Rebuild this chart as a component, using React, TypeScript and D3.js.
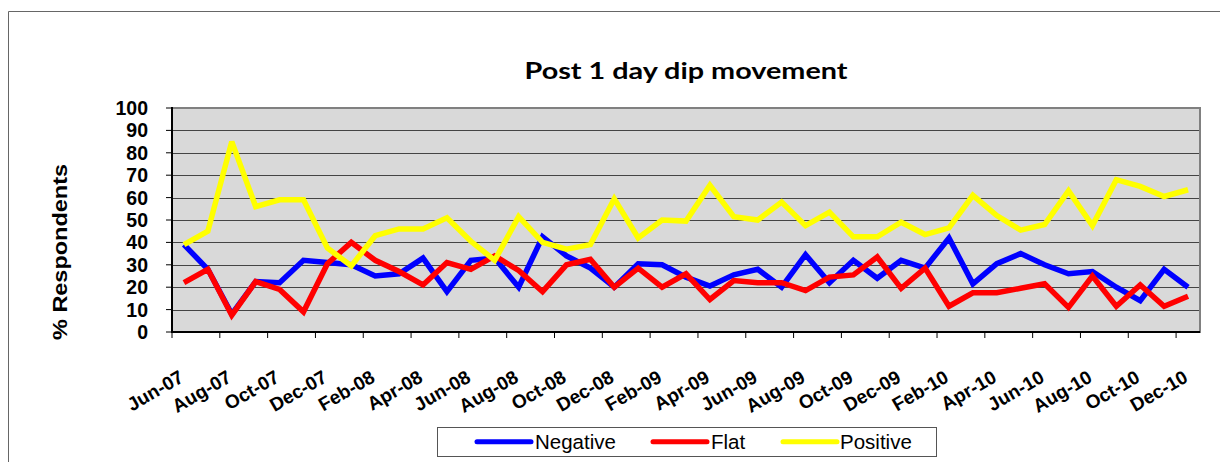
import React from "react";
import * as d3 from "d3";

const months = [
  "Jun-07","Jul-07","Aug-07","Sep-07","Oct-07","Nov-07","Dec-07",
  "Jan-08","Feb-08","Mar-08","Apr-08","May-08","Jun-08","Jul-08","Aug-08","Sep-08","Oct-08","Nov-08","Dec-08",
  "Jan-09","Feb-09","Mar-09","Apr-09","May-09","Jun-09","Jul-09","Aug-09","Sep-09","Oct-09","Nov-09","Dec-09",
  "Jan-10","Feb-10","Mar-10","Apr-10","May-10","Jun-10","Jul-10","Aug-10","Sep-10","Oct-10","Nov-10","Dec-10",
];

const negative = [39, 28, 8, 22.5, 22, 32, 31, 30, 25, 26, 33, 18, 32, 33, 20, 42.5, 34, 28.5, 20, 30.5, 30, 24.5, 20.5, 25.5, 28, 20, 34.5, 22, 32, 24, 32, 28.5, 42, 21.5, 30.5, 35, 30, 26, 27, 20, 14, 28, 20];
const flat = [22, 28, 7.5, 22.5, 19, 9, 30.5, 40, 32, 27, 21, 31, 28, 34, 27.5, 18, 30, 32.5, 20, 28.5, 20, 26, 14.5, 23, 22, 22, 18.5, 24.5, 25.5, 33.5, 19.5, 28.5, 11.5, 17.5, 17.5, 19.5, 21.5, 11, 25, 11.5, 21, 11.5, 16];
const positive = [39, 45, 85, 56, 59, 59, 37.5, 29.5, 43, 46, 46, 51, 40.5, 32, 51.5, 40, 37, 39, 59.5, 42, 50, 49.5, 65.5, 51.5, 50, 58, 47.5, 53.5, 42.5, 42.5, 49, 43.5, 46.5, 61, 52, 45.5, 48, 63, 47.5, 68, 65, 60.5, 63.5];

const yTicks = [0, 10, 20, 30, 40, 50, 60, 70, 80, 90, 100];
const seriesNames = ["Negative", "Flat", "Positive"];
const seriesColors = ["#0000ff", "#ff0000", "#ffff00"];
const seriesData = [negative, flat, positive];

const W = 1220;
const H = 462;
const L = 172, R = 1200, T = 108, B = 332;

export default function App() {
  const x = d3.scaleBand<number>().domain(d3.range(months.length)).range([L, R]).paddingInner(0).paddingOuter(0);
  const y = d3.scaleLinear().domain([0, 100]).range([B, T]);
  const cx = (i: number) => (x(i) as number) + x.bandwidth() / 2;
  const line = d3.line<number>().x((_, i) => cx(i)).y((v) => y(v));
  const tickIdx = d3.range(0, months.length, 2);

  const legendItems = [
    { lx: 477, tx: 535 },
    { lx: 653, tx: 711 },
    { lx: 783, tx: 840 },
  ];

  return (
    <div style={{ position: "absolute", left: 0, top: 0 }}>
      <svg width={W} height={H} style={{ display: "block", fontFamily: "'Liberation Sans', Arial, sans-serif" }}>
        <rect x={0} y={0} width={W} height={H} fill="#ffffff" />
        {/* outer chart border */}
        <line x1={8.5} y1={11.5} x2={W} y2={11.5} stroke="#666" strokeWidth={1} />
        <line x1={8.5} y1={11.5} x2={8.5} y2={H} stroke="#666" strokeWidth={1} />

        {/* title */}
        <text x={686} y={78.5} textAnchor="middle" fontFamily="Lato, 'Open Sans', sans-serif" fontWeight="bold" fontSize={23.5} textLength={323} lengthAdjust="spacingAndGlyphs" fill="#000">
          Post 1 day dip movement
        </text>

        {/* plot background */}
        <rect x={L} y={T} width={R - L} height={B - T} fill="#d9d9d9" stroke="#808080" strokeWidth={2} />

        {/* gridlines */}
        {yTicks.filter((t) => t > 0 && t < 100).map((t) => (
          <line key={t} x1={L} x2={R - 1} y1={Math.round(y(t)) + 0.5} y2={Math.round(y(t)) + 0.5} stroke="#444" strokeWidth={1} />
        ))}

        {/* series */}
        {seriesData.map((d, k) => (
          <path key={k} d={line(d) || ""} fill="none" stroke={seriesColors[k]} strokeWidth={5.5} strokeLinejoin="miter" strokeMiterlimit={3} strokeLinecap="butt" />
        ))}

        {/* axes */}
        <line x1={L} x2={L} y1={T - 1} y2={B + 1} stroke="#000" strokeWidth={2} />
        <line x1={L - 1} x2={R} y1={B} y2={B} stroke="#000" strokeWidth={2} />

        {/* y ticks */}
        {yTicks.map((t) => (
          <g key={t}>
            <line x1={L - 6} x2={L} y1={y(t)} y2={y(t)} stroke="#000" strokeWidth={1} />
            <text x={148} y={y(t) + 7} textAnchor="end" fontWeight="bold" fontSize={19.5} fill="#000">
              {t}
            </text>
          </g>
        ))}

        {/* x ticks */}
        {tickIdx.map((i) => (
          <line key={i} x1={x(i) as number} x2={x(i) as number} y1={B} y2={B + 6} stroke="#000" strokeWidth={1} />
        ))}
        {tickIdx.map((i) => (
          <text key={"l" + i} transform={`translate(${cx(i) + 1},${381}) rotate(-30)`} textAnchor="end" fontWeight="bold" fontSize={19} fill="#000">
            {months[i]}
          </text>
        ))}

        {/* y axis title */}
        <text transform={`translate(67,252) rotate(-90)`} textAnchor="middle" fontWeight="bold" fontSize={21} textLength={176} lengthAdjust="spacingAndGlyphs" fill="#000">
          % Respondents
        </text>

        {/* legend */}
        <rect x={437.5} y={427.5} width={499} height={29} fill="#fff" stroke="#555" strokeWidth={1} />
        {seriesNames.map((n, k) => (
          <g key={n}>
            <line x1={legendItems[k].lx} x2={legendItems[k].lx + 54} y1={441.7} y2={441.7} stroke={seriesColors[k]} strokeWidth={5} strokeLinecap="round" />
            <text x={legendItems[k].tx} y={449} fontSize={20.5} fill="#000">
              {n}
            </text>
          </g>
        ))}
      </svg>
    </div>
  );
}
